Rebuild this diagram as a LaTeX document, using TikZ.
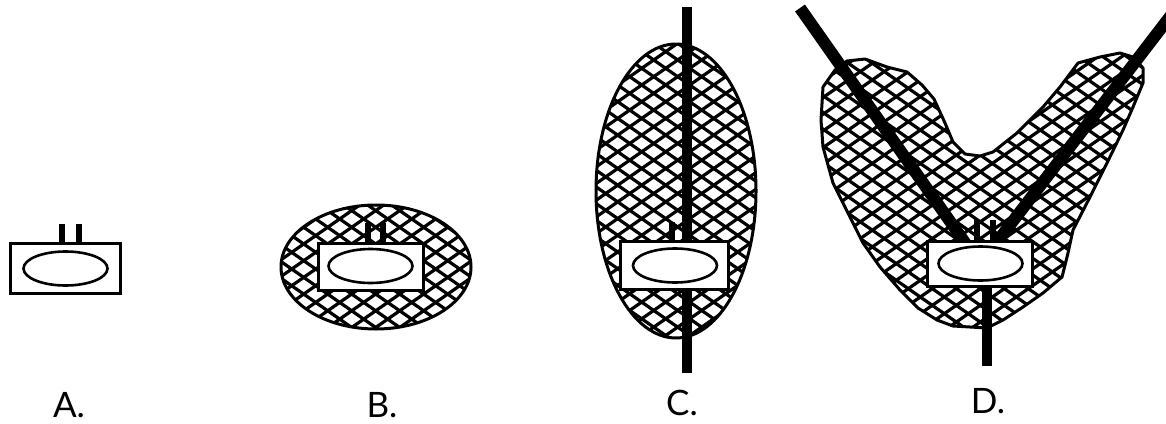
\documentclass[tikz,border=0pt]{standalone}
\usepackage{fontspec}
\setmainfont{Lato}
\usetikzlibrary{shapes.geometric,backgrounds}
\tikzset{
 cellbox/.style={draw,fill=white,line width=2.2pt,inner sep=0pt},
 cellhole/.style={draw,ellipse,line width=2.6pt,inner sep=0pt,minimum width=84pt,minimum height=34pt},
 leadwire/.style={line width=6.5pt},
 fibre/.style={line width=10.5pt},
 meshline/.style={line width=3.2pt},
 outline/.style={line width=3pt,line join=round},
 tag/.style={anchor=base,inner sep=0pt,font=\fontsize{35}{38}\selectfont},
 blobD/.style={insert path={(823,87)--(835,70)--(847,61)--(865,59)--(887,67)--(907,72)
  --(922,85)--(934,99)--(945,123)--(953,142)--(965,154)--(980,156)--(993,152)--(1017,133)
  --(1043,107)--(1060,87)--(1078,63)--(1100,57)--(1120,53)--(1133,57)--(1143,68)--(1143,83)
  --(1133,107)--(1123,130)--(1107,163)--(1090,197)--(1073,230)--(1068,253)--(1062,277)
  --(1043,293)--(1023,307)--(1003,320)--(987,328)--(953,326)--(937,320)--(918,308)
  --(900,290)--(880,267)--(863,243)--(850,217)--(833,183)--(823,147)--(821,120)--cycle}}
}
\newcommand{\meshlines}[2]{%
 \foreach \m in {-720,-696,...,1920} {
  \draw[meshline] (\m+#1,0)--++(608,423);
  \draw[meshline] (\m+#2,0)--++(-608,423);
 }}
\begin{document}
\begin{tikzpicture}[x=1pt,y=-1pt]
 \useasboundingbox (0,0) rectangle (1166,423);
 % cells
 \foreach \n/\cx/\cy/\w/\h/\ex/\ey in {A/65.5/268.5/110/50/65.5/268.5,
   B/371/267/105/47/370.5/266,C/674.5/265.5/108/48/675/265.5,D/980/264/105/45/980.5/263.5} {
  \node[cellbox,minimum width=\w pt,minimum height=\h pt] (box\n) at (\cx,\cy) {};
  \node[cellhole] (hole\n) at (\ex,\ey) {};
 }
 % two short leads on each cell
 \foreach \n/\a/\b/\t in {A/62/79/224,B/368/383/223,C/672/687/222,D/977/993/220} {
  \coordinate (lead\n1) at (\a,\t);
  \coordinate (lead\n2) at (\b,\t);
  \draw[leadwire] (lead\n1)--([yshift=-3pt]box\n.north -| lead\n1);
  \draw[leadwire] (lead\n2)--([yshift=-3pt]box\n.north -| lead\n2);
 }
 \coordinate (topC) at (687,7);
 \coordinate (botC) at (687,373);
 \coordinate (topDl) at (800,8);
 \coordinate (topDr) at (1172,14);
 \coordinate (botD) at (987,366);
 \begin{scope}[on background layer]
  \fill[white] (0,0) rectangle (1166,423);
  \begin{scope}
   \clip (376,267) ellipse [x radius=95,y radius=62];
   \meshlines{1}{6.4}
  \end{scope}
  \draw[outline] (376,267) ellipse [x radius=95,y radius=62];
  \begin{scope}
   \clip (676,191) ellipse [x radius=80,y radius=147];
   \meshlines{15.5}{19.9}
  \end{scope}
  \draw[outline] (676,191) ellipse [x radius=80,y radius=147];
  \begin{scope}
   \path[blobD,clip];
   \meshlines{13.4}{3.2}
  \end{scope}
  \draw[outline,blobD];
  \draw[fibre] (topC)--(topC |- boxC.center);
  \draw[fibre] (botC)--(botC |- boxC.center);
  \draw[fibre,line width=12pt] (topDl)--(boxD.center);
  \draw[fibre,line width=12pt] (topDr)--(boxD.center);
  \draw[fibre] (botD)--(botD |- boxD.center);
 \end{scope}
 \node[tag] (tagA) at (69,417) {A.};
 \node[tag] (tagB) at (382,417) {B.};
 \node[tag] (tagC) at (682,415) {C.};
 \node[tag] (tagD) at (988,413) {D.};
\end{tikzpicture}
\end{document}
